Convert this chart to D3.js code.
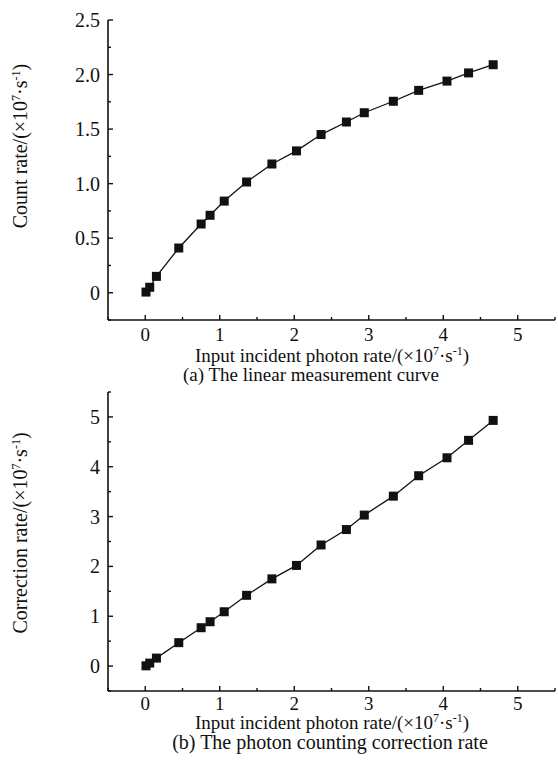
<!DOCTYPE html>
<html>
<head>
<meta charset="utf-8">
<script src="https://cdn.jsdelivr.net/npm/d3@7"></script>
<style>
  body { margin: 0; background: #fff; }
  svg text { font-family: "Liberation Serif", "Times New Roman", serif; fill: #111; }
</style>
</head>
<body>
<div id="chart"></div>
<script>
// input photon rate, x10^7 s^-1 (shared by both panels)
const inputRate = [0.01, 0.06, 0.15, 0.45, 0.75, 0.87, 1.06, 1.36, 1.70, 2.03, 2.36, 2.70, 2.94, 3.33, 3.67, 4.05, 4.34, 4.67]
// panel (a) measured count rate
const countRate = [0.006, 0.05, 0.15, 0.41, 0.63, 0.71, 0.84, 1.015, 1.18, 1.30, 1.45, 1.565, 1.65, 1.755, 1.855, 1.94, 2.015, 2.09]
// panel (b) corrected rate
const correctedRate = [0.005, 0.06, 0.16, 0.47, 0.77, 0.89, 1.09, 1.42, 1.75, 2.02, 2.43, 2.74, 3.03, 3.41, 3.82, 4.18, 4.53, 4.93]

const xTicks = [0, 1, 2, 3, 4, 5]
const yTicksA = [0, 0.5, 1.0, 1.5, 2.0, 2.5]
const yTicksB = [0, 1, 2, 3, 4, 5]

const width = 558
const height = 760

const svg = d3.select("#chart").append("svg")
    .attr("width", width)
    .attr("height", height)

// label with superscripts "(×10^7·s^-1)"
function unitLabel(sel, prefix) {
    sel.append("tspan").text(prefix + "/(×10")
    sel.append("tspan").attr("dy", -7).style("font-size", "12px").text("7")
    sel.append("tspan").attr("dy", 7).text("·s")
    sel.append("tspan").attr("dy", -7).style("font-size", "12px").text("-1")
    sel.append("tspan").attr("dy", 7).text(")")
}

function drawPanel(opts) {
    const g = svg.append("g")
    const x = d3.scaleLinear().domain([-0.5, 5.5]).range([108, 555])
    const y = d3.scaleLinear().domain(opts.yDomain).range([opts.bottom, opts.top])

    g.append("line")
        .attr("x1", x.range()[0]).attr("x2", x.range()[0])
        .attr("y1", opts.top).attr("y2", opts.bottom)
        .attr("stroke", "#111").attr("stroke-width", 1.6)
    g.append("line")
        .attr("x1", x.range()[0]).attr("x2", x.range()[1])
        .attr("y1", opts.bottom).attr("y2", opts.bottom)
        .attr("stroke", "#111").attr("stroke-width", 1.6)

    // ticks point inward, minor every half step
    const xMinor = d3.range(-0.5, 5.51, 0.5)
    g.selectAll(".xt").data(xMinor).enter().append("line")
        .attr("x1", d => x(d)).attr("x2", d => x(d))
        .attr("y1", opts.bottom)
        .attr("y2", d => opts.bottom - (Number.isInteger(d) ? 5 : 3))
        .attr("stroke", "#111").attr("stroke-width", 1.4)
    const yMinor = d3.range(opts.yDomain[0], opts.yDomain[1] + 0.001, opts.yStep / 2)
    g.selectAll(".yt").data(yMinor).enter().append("line")
        .attr("y1", d => y(d)).attr("y2", d => y(d))
        .attr("x1", x.range()[0])
        .attr("x2", d => x.range()[0] + (opts.yTicks.some(t => Math.abs(t - d) < 1e-6) ? 5 : 3))
        .attr("stroke", "#111").attr("stroke-width", 1.4)

    g.selectAll(".xl").data(xTicks).enter().append("text")
        .attr("x", d => x(d))
        .attr("y", opts.bottom + opts.tickDy)
        .attr("text-anchor", "middle")
        .style("font-size", "19px")
        .text(d => d)
    g.selectAll(".yl").data(opts.yTicks).enter().append("text")
        .attr("x", x.range()[0] - 8)
        .attr("y", d => y(d) + 7)
        .attr("text-anchor", "end")
        .style("font-size", "20px")
        .text(d => d === 0 ? "0" : opts.yFormat(d))

    const xt = g.append("text")
        .attr("x", 332).attr("y", opts.bottom + opts.xLabelDy)
        .attr("text-anchor", "middle")
        .style("font-size", "19px")
    unitLabel(xt, "Input incident photon rate")

    const yt = g.append("text")
        .attr("transform", `translate(27,${opts.labelY}) rotate(-90)`)
        .attr("text-anchor", "middle")
        .style("font-size", "20px")
    unitLabel(yt, opts.yLabel)

    g.append("text")
        .attr("x", opts.captionX).attr("y", opts.bottom + opts.captionDy)
        .attr("text-anchor", "middle")
        .style("font-size", opts.captionSize)
        .text(opts.caption)

    const pts = inputRate.map((d, i) => ({ x: d, y: opts.values[i] }))
    g.append("path")
        .datum(pts)
        .attr("fill", "none")
        .attr("stroke", "#111")
        .attr("stroke-width", 1.3)
        .attr("d", d3.line().x(d => x(d.x)).y(d => y(d.y)))
    g.selectAll(".pt").data(pts).enter().append("rect")
        .attr("x", d => x(d.x) - 4.5)
        .attr("y", d => y(d.y) - 4.5)
        .attr("width", 9).attr("height", 9)
        .attr("fill", "#111")
}

drawPanel({
    yDomain: [-0.25, 2.5], yStep: 0.5, yTicks: yTicksA, top: 20, bottom: 320,
    yFormat: d3.format(".1f"), yLabel: "Count rate", labelY: 146,
    tickDy: 21, xLabelDy: 42, captionDy: 61, captionX: 311, captionSize: "19px",
    values: countRate, caption: "(a) The linear measurement curve"
})
drawPanel({
    yDomain: [-0.5, 5.5], yStep: 1, yTicks: yTicksB, top: 392, bottom: 691,
    yFormat: d3.format("d"), yLabel: "Correction rate", labelY: 533,
    tickDy: 19, xLabelDy: 38, captionDy: 58, captionX: 330, captionSize: "20px",
    values: correctedRate, caption: "(b) The photon counting correction rate"
})
</script>
</body>
</html>
